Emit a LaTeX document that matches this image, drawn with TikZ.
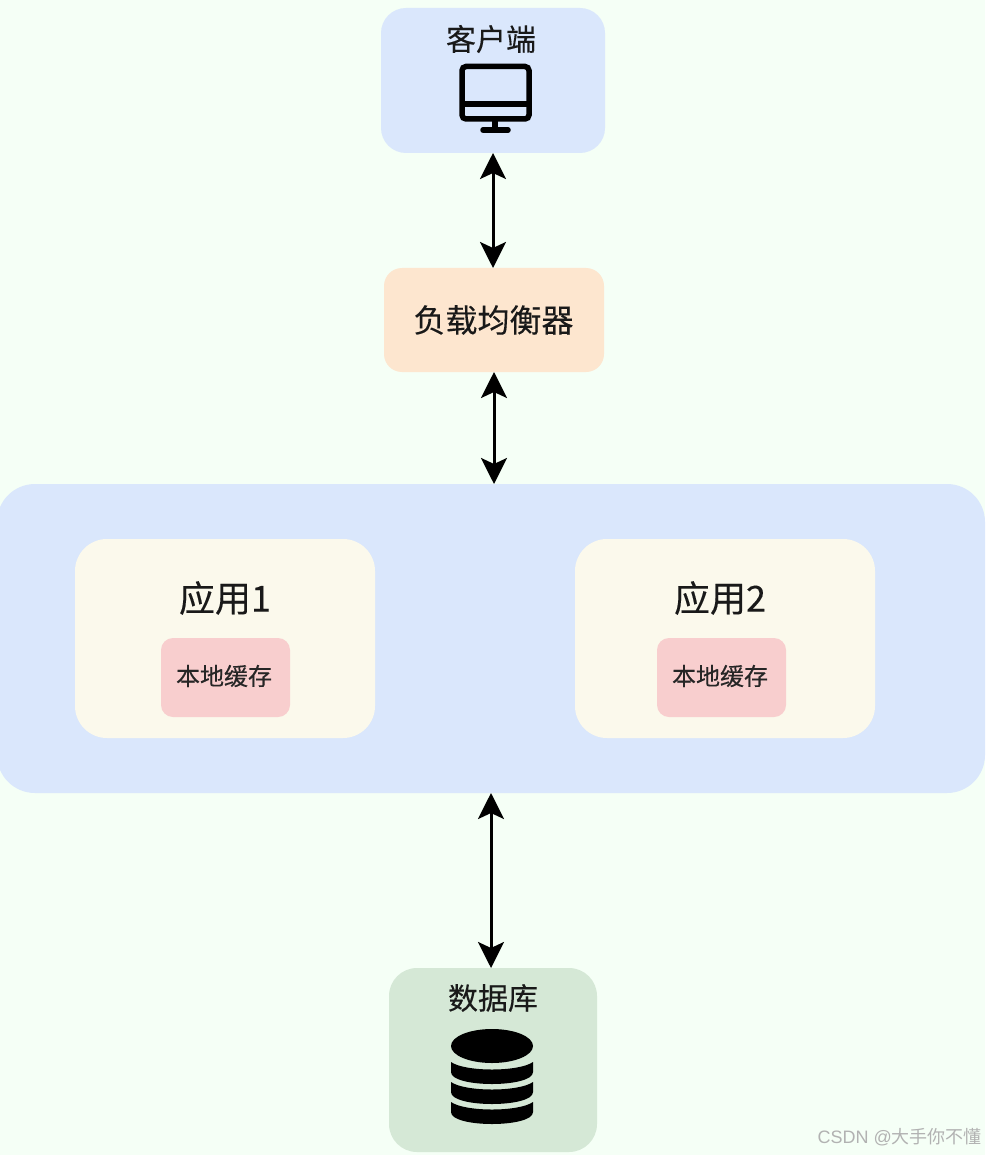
\documentclass[tikz,border=0pt]{standalone}
\usepackage{fontspec}
\usepackage{xcolor}
\usetikzlibrary{arrows.meta}
\setmainfont[FakeBold=0.25]{Noto Sans CJK SC}
\newfontfamily\wmfont{Liberation Sans}
\newfontfamily\wmcjk{Noto Sans CJK SC}
\definecolor{bggreen}{HTML}{F5FFF6}
\definecolor{boxblue}{HTML}{DAE7FC}
\definecolor{boxorange}{HTML}{FDE6CF}
\definecolor{boxcream}{HTML}{FBF9EC}
\definecolor{boxpink}{HTML}{F8CECE}
\definecolor{boxgreen}{HTML}{D5E8D6}
\tikzset{
    box/.style={rectangle, inner sep=0pt, outer sep=0pt},
    bigtext/.style={font=\fontsize{30}{36}\selectfont, text=black!90, inner sep=0pt},
    apptext/.style={font=\fontsize{36}{40}\selectfont, text=black!90, inner sep=0pt},
    smalltext/.style={font=\fontsize{24}{28}\selectfont, text=black!85, inner sep=0pt},
    link/.style={<->, >={Stealth[length=26pt, width=26pt, inset=6pt]}, line width=3pt, draw=black}
}

\begin{document}
\begin{tikzpicture}[x=1pt, y=-1pt]
        \path[use as bounding box, fill=bggreen] (0, 0) rectangle (985, 1155);

        \node[box, fill=boxblue, rounded corners=25pt, minimum width=224pt, minimum height=145pt] (client) at (493, 80.5) {};
        \node[box, fill=boxorange, rounded corners=18pt, minimum width=220pt, minimum height=104pt] (balancer) at (494, 320) {};
        \node[box, fill=boxblue, rounded corners=38pt, minimum width=988pt, minimum height=309pt] (cluster) at (491, 638.5) {};
        \node[box, fill=boxcream, rounded corners=32pt, minimum width=300pt, minimum height=199pt] (app1) at (225, 638.5) {};
        \node[box, fill=boxcream, rounded corners=32pt, minimum width=300pt, minimum height=199pt] (app2) at (725, 638.5) {};
        \node[box, fill=boxpink, rounded corners=12pt, minimum width=129pt, minimum height=79pt] (cache1) at (225.5, 677.5) {};
        \node[box, fill=boxpink, rounded corners=12pt, minimum width=129pt, minimum height=79pt] (cache2) at (721.5, 677.5) {};
        \node[box, fill=boxgreen, rounded corners=28pt, minimum width=208pt, minimum height=184pt] (db) at (493, 1060) {};

        \node[bigtext] (clienttext) at (491, 39) {客户端};
        \node[font=\fontsize{32}{38}\selectfont, text=black!90, inner sep=0pt] (balancertext) at (493.5, 320) {负载均衡器};
        \node[apptext] (app1text) at (225, 598) {应用1};
        \node[apptext] (app2text) at (720, 598) {应用2};
        \node[smalltext] (cache1text) at (224, 676) {本地缓存};
        \node[smalltext] (cache2text) at (720, 676) {本地缓存};
        \node[bigtext] (dbtext) at (493, 998) {数据库};
        \node[font=\fontsize{18}{22}\selectfont, text=black!30, inner sep=0pt, anchor=east] (mark) at (982, 1137) {{\wmfont CSDN @}{\wmcjk 大手你不懂}};

        % monitor
        \draw[line width=5.5pt, rounded corners=4pt] (462, 66.5) rectangle (529, 119);
        \draw[line width=5.5pt] (462, 104) -- (529, 104);
        \draw[line width=5.5pt] (495, 119) -- (495, 130);
        \draw[line width=5.5pt, line cap=round] (483, 130) -- (508, 130);

        % database
        \fill (492, 1046) ellipse [x radius=41, y radius=17];
        \foreach \ys in {1062, 1082, 1102} {
            \fill (451, \ys) .. controls (465, \ys+10) and (519, \ys+10) .. (533, \ys)
                -- (533, \ys+10) .. controls (533, \ys+26) and (451, \ys+26) .. (451, \ys+10) -- cycle;
        }

        \draw[link] (client.south) -- (client.south |- balancer.north);
        \draw[link] (balancer.south) -- (balancer.south |- cluster.north);
        \draw[link] (cluster.south) -- (cluster.south |- db.north);
    \end{tikzpicture}
\end{document}
